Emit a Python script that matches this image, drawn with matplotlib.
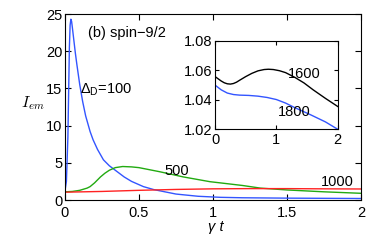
import numpy as np
import matplotlib
matplotlib.use("Agg")
import matplotlib.pyplot as plt

plt.rcParams['font.family'] = ['Liberation Sans', 'DejaVu Sans']
plt.rcParams['font.size'] = 10.5

# main panel: emission intensity vs gamma*t for several Delta_D
t100 = [0, 0.01, 0.02, 0.03, 0.035, 0.04, 0.045, 0.05, 0.06, 0.07, 0.08, 0.10,
        0.12, 0.14, 0.17, 0.19, 0.22, 0.26, 0.30, 0.34, 0.40, 0.45, 0.53, 0.60,
        0.75, 0.90, 1.05, 1.2, 1.5, 2.0]
i100 = [1.2, 2.5, 8.5, 20.5, 23.5, 24.3, 24.0, 23.2, 21.5, 19.8, 18.3, 15.5,
        13.2, 11.3, 9.2, 8.1, 6.8, 5.4, 4.6, 4.0, 3.1, 2.5, 1.8, 1.4,
        0.8, 0.5, 0.36, 0.3, 0.25, 0.2]

t500 = [0, 0.05, 0.10, 0.15, 0.17, 0.20, 0.24, 0.27, 0.30, 0.34, 0.39, 0.45,
        0.50, 0.64, 0.80, 0.98, 1.05, 1.2, 1.32, 1.5, 1.75, 2.0]
i500 = [1.1, 1.15, 1.3, 1.6, 1.8, 2.3, 3.1, 3.6, 4.0, 4.35, 4.5, 4.45,
        4.35, 3.8, 3.1, 2.46, 2.3, 1.95, 1.6, 1.35, 1.1, 0.9]

t1000 = [0, 0.25, 0.5, 0.75, 1.0, 1.25, 1.5, 1.75, 2.0]
i1000 = [1.05, 1.15, 1.3, 1.42, 1.5, 1.53, 1.53, 1.5, 1.48]

# inset: Delta_D = 1600, 1800
t1600 = [0, 0.05, 0.1, 0.15, 0.2, 0.25, 0.3, 0.35, 0.4, 0.5, 0.6, 0.7, 0.8,
         0.87, 0.95, 1.05, 1.15, 1.3, 1.45, 1.6, 1.8, 2.0]
i1600 = [1.0558, 1.0543, 1.0528, 1.0516, 1.0509, 1.0507, 1.0511, 1.052, 1.0533,
         1.0558, 1.058, 1.0597, 1.0606, 1.0608, 1.0606, 1.0598, 1.0585, 1.0553,
         1.0515, 1.0468, 1.041, 1.0355]

t1800 = [0, 0.1, 0.2, 0.3, 0.4, 0.55, 0.7, 0.85, 1.0, 1.15, 1.3, 1.55, 1.8, 2.0]
i1800 = [1.050, 1.0468, 1.0446, 1.0436, 1.0432, 1.0430, 1.0425, 1.0416, 1.0402,
         1.0378, 1.0347, 1.030, 1.025, 1.020]

blue = '#3355ff'
green = '#22aa11'
red = '#ff2222'

fig = plt.figure(figsize=(3.82, 2.5), dpi=100)
ax = fig.add_axes([0.170, 0.200, 0.775, 0.744])
ax.plot(t100, i100, color=blue, lw=1)
ax.plot(t500, i500, color=green, lw=1)
ax.plot(t1000, i1000, color=red, lw=1)
ax.set_xlim(0, 2)
ax.set_ylim(0, 25)
ax.set_xticks([0, 0.5, 1, 1.5, 2])
ax.set_xticklabels(['0', '0.5', '1', '1.5', '2'])
ax.set_yticks([0, 5, 10, 15, 20, 25])
ax.tick_params(direction='in', top=True, right=True, length=4, width=0.8)
ax.tick_params(axis='x', pad=4)
ax.tick_params(axis='y', pad=2)

ax.text(0.155, 22.4, '(b) spin\u22129/2', va='center', ha='left')
ax.text(0.10, 14.8, r'$\mathregular{\Delta_D}$=100', va='center', ha='left')
ax.text(0.67, 3.9, '500', va='center', ha='left')
ax.text(1.73, 2.4, '1000', va='center', ha='left')

fig.text(33 / 382, 1 - 103 / 250, r'$I_{em}$', math_fontfamily='cm',
         fontsize=11.5, ha='center', va='center')
fig.text(216 / 382, 1 - 227 / 250, 'γ t', style='italic', ha='center', va='center')

ins = fig.add_axes([0.563, 0.483, 0.321, 0.353])
ins.plot(t1600, i1600, color='k', lw=1)
ins.plot(t1800, i1800, color=blue, lw=1)
ins.set_xlim(0, 2)
ins.set_ylim(1.02, 1.08)
ins.set_xticks([0, 1, 2])
ins.set_xticklabels(['0', '1', '2'])
ins.set_yticks([1.02, 1.04, 1.06, 1.08])
ins.set_yticklabels(['1.02', '1.04', '1.06', '1.08'])
ins.tick_params(direction='in', top=True, right=True, length=3, width=0.8)
ins.tick_params(axis='x', pad=3)
ins.tick_params(axis='y', pad=2)
ins.text(1.19, 1.0579, '1600', va='center', ha='left')
ins.text(1.03, 1.0314, '1800', va='center', ha='left')

fig.savefig('out.png', dpi=100)
